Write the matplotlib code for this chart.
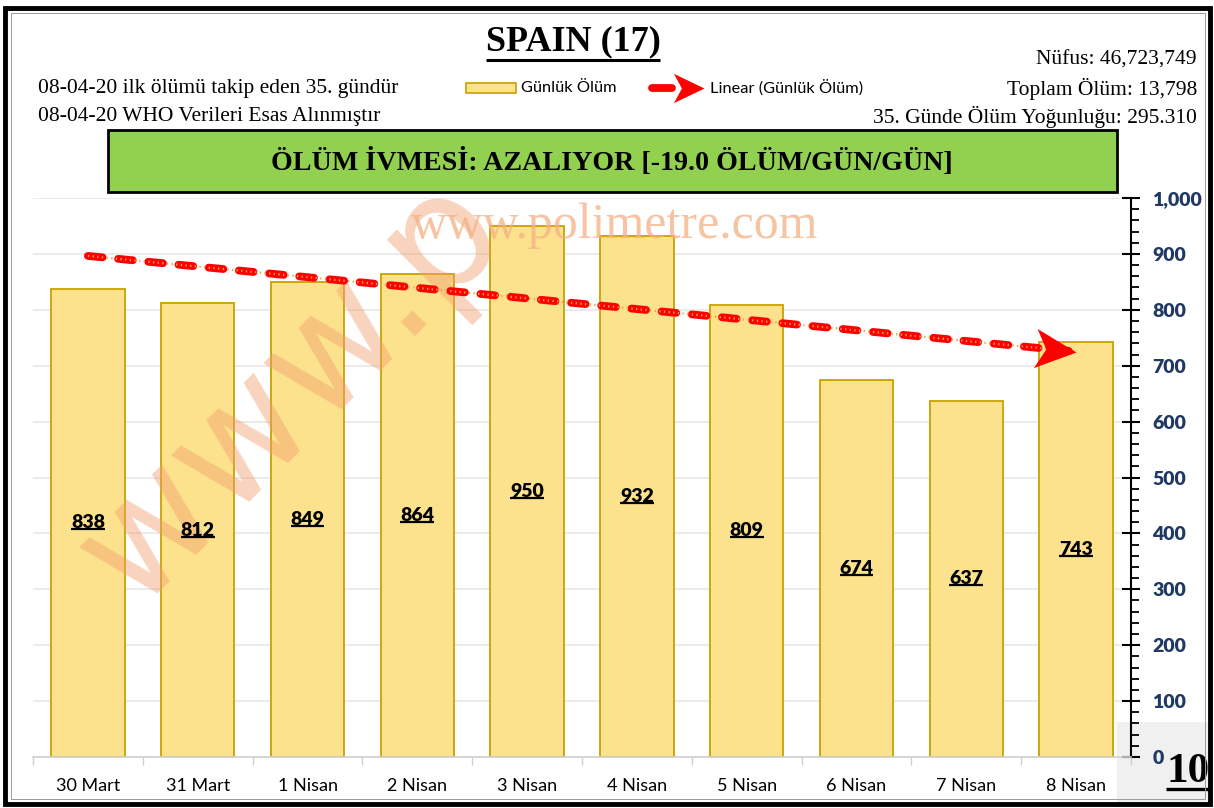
import numpy as np
import matplotlib
matplotlib.use('Agg')
import matplotlib.pyplot as plt
from matplotlib.patches import Rectangle
from matplotlib.lines import Line2D
from matplotlib.path import Path
from matplotlib.markers import MarkerStyle
from matplotlib.transforms import Affine2D
from matplotlib.ticker import MultipleLocator, FuncFormatter

categories = ['30 Mart', '31 Mart', '1 Nisan', '2 Nisan', '3 Nisan',
              '4 Nisan', '5 Nisan', '6 Nisan', '7 Nisan', '8 Nisan']
daily_deaths = [838, 812, 849, 864, 950, 932, 809, 674, 637, 743]
y_ticks = [0, 100, 200, 300, 400, 500, 600, 700, 800, 900, 1000]

title = 'SPAIN (17)'
left_lines = ['08-04-20 ilk ölümü takip eden 35. gündür',
              '08-04-20 WHO Verileri Esas Alınmıştır']
right_lines = ['Nüfus: 46,723,749', 'Toplam Ölüm: 13,798',
               '35. Günde Ölüm Yoğunluğu: 295.310']
banner = 'ÖLÜM İVMESİ: AZALIYOR [-19.0 ÖLÜM/GÜN/GÜN]'
legend_bar = 'Günlük Ölüm'
legend_line = 'Linear (Günlük Ölüm)'
page_no = '10'
watermark = 'www.polimetre.com'
watermark_diag = 'www.p'

SERIF = 'Liberation Serif'
SANS = 'Lato'
BAR_FACE = '#FDE28E'
BAR_EDGE = '#C9A000'

W, H = 1214, 808
fig = plt.figure(figsize=(W / 100, H / 100), dpi=100)
fig.patch.set_facecolor('white')


def fx(px):
    return px / W


def fy(py):
    return 1 - py / H


# arrow head marker (stealth shape)
arrow_path = Path([(0, 0), (-1, 0.48), (-0.74, 0), (-1, -0.48), (0, 0)],
                  [Path.MOVETO, Path.LINETO, Path.LINETO, Path.LINETO, Path.CLOSEPOLY])

# grey page box bottom-right (behind axes)
fig.add_artist(Rectangle((fx(1117), fy(805)), fx(1210) - fx(1117), fy(722) - fy(805),
                         transform=fig.transFigure, facecolor='#F0F0F0',
                         edgecolor='none', zorder=-1))

pos = [fx(33), fy(757), fx(1131) - fx(33), fy(198) - fy(757)]
ax = fig.add_axes(pos)
ax.set_zorder(0)
ax.patch.set_alpha(0)
x = np.arange(len(categories))
ax.bar(x, daily_deaths, width=0.67, color=BAR_FACE, edgecolor=BAR_EDGE,
       linewidth=1.3, zorder=2)
ax.set_xlim(-0.5, len(categories) - 0.5)
ax.set_ylim(0, 1000)

ax.set_yticks(y_ticks)
ax.yaxis.set_minor_locator(MultipleLocator(20))
ax.yaxis.tick_right()
ax.yaxis.set_major_formatter(FuncFormatter(lambda v, p: f'{int(v):,}'))
ax.tick_params(axis='y', which='major', direction='inout', length=13, width=1.5,
               color='black', pad=9, labelsize=14, labelcolor='#1F3864')
ax.tick_params(axis='y', which='minor', direction='out', length=6, width=1.3,
               color='black')
for lbl in ax.get_yticklabels():
    lbl.set_fontweight('heavy')
    lbl.set_family(SANS)

ax.set_xticks(x)
ax.set_xticklabels(categories, family=SANS, fontsize=13)
ax.set_xticks(np.arange(-0.5, len(categories), 1), minor=True)
ax.tick_params(axis='x', which='major', length=0, pad=15)
ax.tick_params(axis='x', which='minor', length=6, width=1, color='#D0D0D0', direction='out')

for s in ['left', 'top']:
    ax.spines[s].set_visible(False)
ax.spines['right'].set_color('black')
ax.spines['right'].set_linewidth(1.5)
ax.spines['bottom'].set_color('#D0D0D0')
ax.spines['bottom'].set_linewidth(1.2)
ax.yaxis.grid(True, which='major', color='#E8E8E8', linewidth=1.2)
ax.set_axisbelow(True)

# overlay axes (above watermark) for trend and labels
ax2 = fig.add_axes(pos)
ax2.set_zorder(2)
ax2.patch.set_alpha(0)
ax2.axis('off')
ax2.set_xlim(ax.get_xlim())
ax2.set_ylim(ax.get_ylim())

coef = np.polyfit(x, daily_deaths, 1)
trend = np.polyval(coef, x)
ax2.plot(x, trend, color='#FF0000', lw=5.6, linestyle=(0, (1.9, 2.0)),
         dash_capstyle='round', zorder=4)
ax2.plot(x, trend, color='#F7A040', lw=1.6, linestyle=(0, (0.6, 1.5)), zorder=5)
p0 = ax2.transData.transform((x[-2], trend[-2]))
p1 = ax2.transData.transform((x[-1], trend[-1]))
ang = np.degrees(np.arctan2(p1[1] - p0[1], p1[0] - p0[0]))
m = MarkerStyle(arrow_path).transformed(Affine2D().rotate_deg(ang))
ax2.plot([x[-1]], [trend[-1]], marker=m, markersize=59, color='#FF0000',
         markeredgewidth=0, linestyle='none', zorder=6)

labels = []
for xi, v in zip(x, daily_deaths):
    labels.append(ax2.text(xi, v / 2, f'{v}', ha='center', va='center', fontsize=14,
                           fontweight='heavy', family=SANS, color='black', zorder=7))

# watermarks
fig.text(fx(135), fy(610), watermark_diag, rotation=45, rotation_mode='anchor',
         ha='left', va='baseline', fontsize=115, family='DejaVu Sans',
         color='#F0A070', alpha=0.45, zorder=1)
fig.text(fx(615), fy(226), watermark, ha='center', va='center', fontsize=36,
         family=SERIF, color='#F4B183', alpha=0.75, zorder=1)

# green banner
fig.add_artist(Rectangle((fx(108), fy(192)), fx(1117) - fx(108), fy(130) - fy(192),
                         transform=fig.transFigure, facecolor='#92D050',
                         edgecolor='black', linewidth=2, zorder=3))
fig.text(fx(612), fy(162), banner, ha='center', va='center', fontsize=20.2,
         fontweight='bold', family=SERIF, zorder=4)

# title & info texts
t_title = fig.text(fx(573), fy(42), title, ha='center', va='center', fontsize=26,
                   fontweight='bold', family=SERIF, zorder=4)
for i, s in enumerate(left_lines):
    fig.text(fx(38), fy(88 + 29 * i), s, ha='left', va='center', fontsize=15.5,
             family=SERIF, zorder=4)
for i, s in enumerate(right_lines):
    fig.text(fx(1197), fy(60 + 28.5 * i), s, ha='right', va='center', fontsize=15.5,
             family=SERIF, zorder=4)

# legend
fig.add_artist(Rectangle((fx(466), fy(93)), fx(516) - fx(466), fy(83) - fy(93),
                         transform=fig.transFigure, facecolor=BAR_FACE,
                         edgecolor=BAR_EDGE, linewidth=1.2, zorder=4))
fig.text(fx(521), fy(88), legend_bar, ha='left', va='center', fontsize=11.8,
         family=SANS, zorder=4)
fig.add_artist(Line2D([fx(652), fx(672)], [fy(88), fy(88)], transform=fig.transFigure,
                      color='#FF0000', lw=5.6, solid_capstyle='round', zorder=4))
fig.add_artist(Line2D([fx(704)], [fy(88)], transform=fig.transFigure,
                      marker=MarkerStyle(arrow_path), markersize=44, color='#FF0000',
                      markeredgewidth=0, linestyle='none', zorder=5))
fig.text(fx(710), fy(88), legend_line, ha='left', va='center', fontsize=11.8,
         family=SANS, zorder=4)

# page number
t_page = fig.text(fx(1188), fy(782), page_no, ha='center', va='baseline', fontsize=31,
                  fontweight='bold', family=SERIF, zorder=4)

# outer frame
fig.add_artist(Rectangle((fx(5), fy(804)), fx(1210) - fx(5), fy(8) - fy(804),
                         transform=fig.transFigure, fill=False, edgecolor='black',
                         linewidth=3.5, zorder=10))
fig.add_artist(Rectangle((fx(11), fy(799)), fx(1205) - fx(11), fy(13) - fy(799),
                         transform=fig.transFigure, fill=False, edgecolor='#9A9A9A',
                         linewidth=0.7, zorder=10))

# underlines
fig.canvas.draw()
renderer = fig.canvas.get_renderer()
inv = fig.transFigure.inverted()


def underline(t, lw, off):
    bb = t.get_window_extent(renderer)
    (a, b) = inv.transform((bb.x0, bb.y0 - off))
    (c, d) = inv.transform((bb.x1, bb.y0 - off))
    fig.add_artist(Line2D([a, c], [b, d], transform=fig.transFigure, color='black',
                          lw=lw, solid_capstyle='butt', zorder=8))


for t in labels:
    underline(t, 1.6, -2)
underline(t_title, 2.2, 1)
underline(t_page, 2.4, -2)

fig.savefig('out.png', dpi=100)
